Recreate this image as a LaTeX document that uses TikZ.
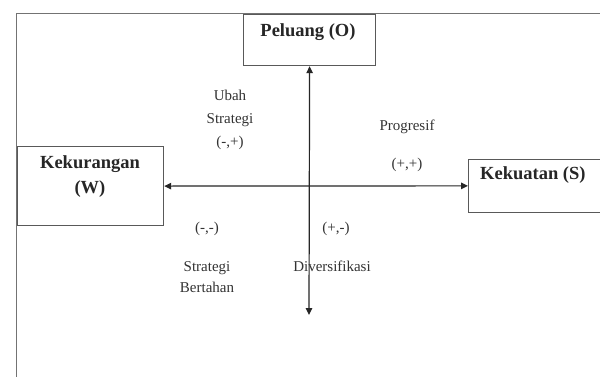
\documentclass[tikz,border=0pt]{standalone}
\usepackage{fontspec}
\setmainfont{Liberation Serif}
\usetikzlibrary{arrows.meta}
\tikzset{
  frame/.style={draw=black!55, line width=1.2pt},
  box/.style={draw=black!65, line width=1.2pt, inner sep=0pt, anchor=north west},
  boxtxt/.style={font=\bfseries\fontsize{18.5}{25}\selectfont, align=center, text=black!85, inner sep=0pt},
  lbl/.style={font=\fontsize{15}{22.5}\selectfont, align=center, text=black!80, inner sep=0pt},
  tip/.tip={Triangle[length=7pt,width=6.5pt]},
  arr/.style={line width=1.2pt, draw=black!85, tip-tip},
}
\begin{document}
\begin{tikzpicture}[x=1pt,y=-1pt]
\useasboundingbox (0,0) rectangle (600,376);
\clip (0,0) rectangle (600,376);
\fill[white] (0,0) rectangle (600,376);
% outer frame (cropped)
\draw[frame] (16.5,420) -- (16.5,13.5) -- (640,13.5);
% boxes
\node[box, minimum width=132pt, minimum height=51.5pt] (pel) at (243,13.5) {};
\node[boxtxt] (peltxt) at (308,32) {Peluang (O)};
\node[box, minimum width=146.5pt, minimum height=79pt] (kur) at (16.5,146) {};
\node[boxtxt] (kurtxt) at (90,177) {Kekurangan\\(W)};
\node[box, minimum width=160pt, minimum height=52.5pt] (kuat) at (468,159) {};
\node[boxtxt, anchor=west] (kuattxt) at (480,175) {Kekuatan (S)};
% axes
\coordinate (bot) at (309,315);
\draw[arr] (kur.east) -- (kuat.west);
\draw[arr] (pel.south) -- (bot);
% quadrant labels
\node[lbl, font=\fontsize{15}{23}\selectfont] (ubah) at (230,120) {Ubah\\Strategi\\(-,+)};
\node[lbl] (prog) at (407,127) {Progresif};
\node[lbl] (pp) at (407,165) {(+,+)};
\node[lbl] (mm) at (207,229) {(-,-)};
\node[lbl, font=\fontsize{15}{21}\selectfont] (bert) at (207,277) {Strategi\\Bertahan};
\node[lbl] (pm) at (336,229) {(+,-)};
\node[lbl] (div) at (332,266) {Diversifikasi};
\end{tikzpicture}
\end{document}
